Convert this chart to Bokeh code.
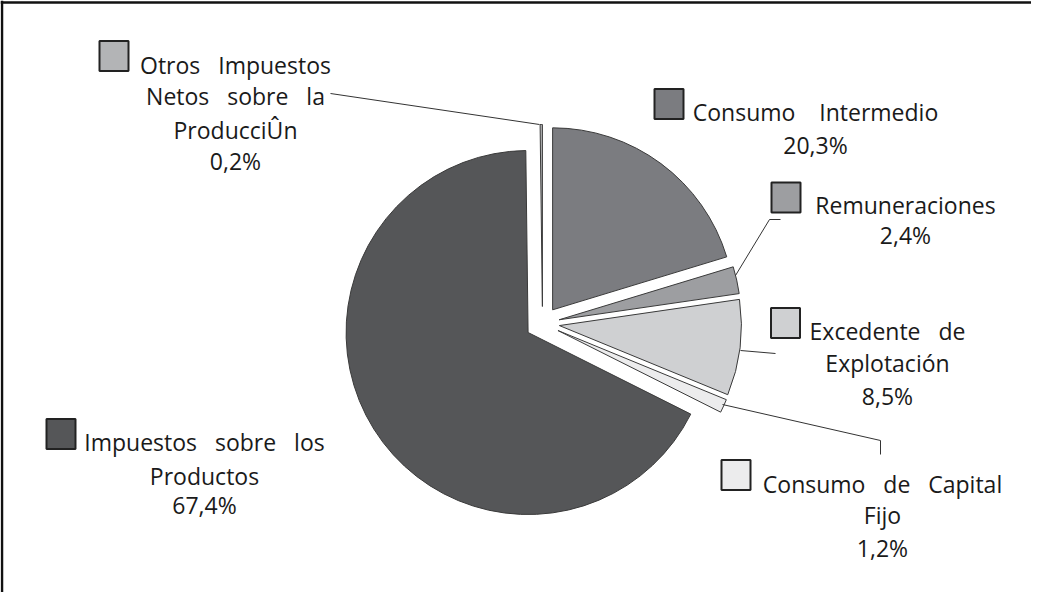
import math
from bokeh.plotting import figure
from bokeh.models import Range1d, ColumnDataSource, Span
from bokeh.core.properties import value
from bokeh.embed import file_html
from bokeh.resources import INLINE

# ---------------- data ----------------
categories = [
    "Consumo Intermedio",
    "Remuneraciones",
    "Excedente de Explotación",
    "Consumo de Capital Fijo",
    "Impuestos sobre los Productos",
    "Otros Impuestos Netos sobre la ProducciÛn",
]
shares = [20.3, 2.4, 8.5, 1.2, 67.4, 0.2]
colors = ["#7b7c80", "#9d9ea1", "#cfd0d2", "#ececed", "#555658", "#b3b4b6"]
label_words = [
    [["Consumo", "Intermedio"]],
    [["Remuneraciones"]],
    [["Excedente", "de"], ["Explotación"]],
    [["Consumo", "de", "Capital"], ["Fijo"]],
    [["Impuestos", "sobre", "los"], ["Productos"]],
    [["Otros", "Impuestos"], ["Netos", "sobre", "la"], ["ProducciÛn"]],
]

# ---------------- layout (pixel coordinates, y measured from top) ----------------
W, H = 1031, 592
def Y(py):
    return 608 - py

CX, CY, R, EXPLODE = 550, 331, 182, 17
FONT = value("Open Sans")
FS = "23px"
TXT = "#1a1a1a"
GAP = "\u00a0\u00a0\u00a0"

layout = [
    dict(cx=823, base=[119, 152], sq=(676.5, 111.5), lead=None, gap=GAP + "\u00a0"),
    dict(cx=913, base=[212, 242], sq=(793.5, 205), lead=[(788, 227), (777, 227), (743, 283)], gap=GAP),
    dict(cx=895, base=[338, 370, 403], sq=(793, 330.5), lead=[(748, 358), (783, 361)], gap=GAP),
    dict(cx=890, base=[491, 522, 555], sq=(743.5, 482.5), lead=[(730, 412), (888, 448), (888, 462)], gap=GAP),
    dict(cx=212, base=[449, 483, 512], sq=(68.5, 441.5), lead=None, gap=GAP),
    dict(cx=243, base=[72, 103, 137, 168], sq=(121.5, 63.5), lead=[(338, 101), (547, 132)], gap=GAP),
]

p = figure(width=W, height=H, output_backend="svg", toolbar_location=None,
           x_range=Range1d(8, 8 + W), y_range=Range1d(8, 8 + H),
           x_axis_location=None, y_axis_location=None, min_border=0)
p.outline_line_color = None
p.xgrid.visible = False
p.ygrid.visible = False
p.background_fill_color = "white"

# frame lines (top and left)
p.add_layout(Span(location=Y(10), dimension="width", line_color="#111111", line_width=2.5))
p.add_layout(Span(location=9.5, dimension="height", line_color="#111111", line_width=2.5))

# ---------------- pie ----------------
total = sum(shares)
xs, ys, starts, ends = [], [], [], []
cum = 0.0
for v in shares:
    a0 = cum / total * 360.0
    a1 = (cum + v) / total * 360.0
    cum += v
    mid = math.radians(90 - (a0 + a1) / 2)
    xs.append(CX + EXPLODE * math.cos(mid))
    ys.append(Y(CY) + EXPLODE * math.sin(mid))
    starts.append(math.radians(90 - a1))
    ends.append(math.radians(90 - a0))

src = ColumnDataSource(dict(x=xs, y=ys, start=starts, end=ends, color=colors, cat=categories))
p.wedge(x="x", y="y", radius=R, start_angle="start", end_angle="end",
        fill_color="color", line_color="#3a3a3a", line_width=1, source=src)

# ---------------- leader lines ----------------
for lay in layout:
    if lay["lead"]:
        p.line([pt[0] for pt in lay["lead"]], [Y(pt[1]) for pt in lay["lead"]],
               line_color="#333333", line_width=1)

# ---------------- legend squares ----------------
p.rect(x=[l["sq"][0] for l in layout], y=[Y(l["sq"][1]) for l in layout],
       width=29, height=30, fill_color=colors, line_color="#222222", line_width=2)

# ---------------- labels ----------------
tx, ty, tt = [], [], []
for words, v, lay in zip(label_words, shares, layout):
    lines = [lay["gap"].join(w) for w in words]
    lines.append(f"{v:.1f}".replace(".", ",") + "%")
    for line, b in zip(lines, lay["base"]):
        tx.append(lay["cx"])
        ty.append(Y(b))
        tt.append(line)

p.text(x=tx, y=ty, text=tt, text_font=FONT, text_font_size=FS, text_color=TXT,
       text_align="center", text_baseline="alphabetic")

open("out.html", "w").write(file_html(p, INLINE))
